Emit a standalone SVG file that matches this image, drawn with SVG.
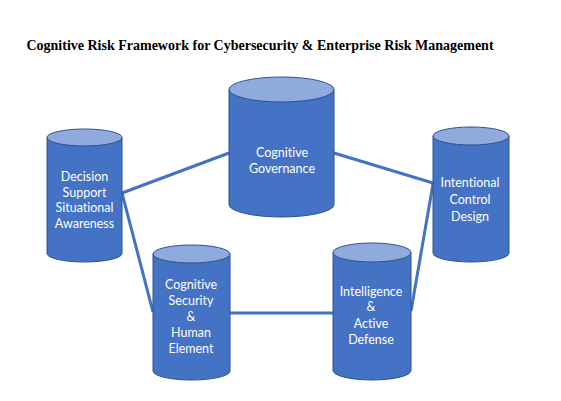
<svg xmlns="http://www.w3.org/2000/svg" width="561" height="401" viewBox="0 0 561 401">
<style>
.body{fill:#4472C4;stroke:#2F528F;stroke-width:1}
.top{fill:#8FAADC;stroke:#2F528F;stroke-width:1}
.lbl{fill:#fff;font-family:Lato,"Liberation Sans",sans-serif;font-size:12.5px;text-anchor:middle;font-variant-ligatures:none}
.con{stroke:#4472C4;stroke-width:3;fill:none}
.title{font-family:"Liberation Serif",serif;font-weight:bold;font-size:14px;text-anchor:middle;fill:#000}
</style>
<rect width="561" height="401" fill="#fff"/>
<text class="title" x="260" y="50">Cognitive Risk Framework for Cybersecurity &amp; Enterprise Risk Management</text>
<g id="connectors">
<line class="con" x1="122" y1="193" x2="229" y2="153"/>
<line class="con" x1="334" y1="153" x2="433" y2="183"/>
<line class="con" x1="122" y1="193" x2="153" y2="312"/>
<line class="con" x1="230" y1="313" x2="333" y2="313"/>
<line class="con" x1="411" y1="311" x2="433" y2="184"/>
</g>
<g id="governance">
<path class="body" d="M229,89.5 L229,204.5 A52.5,12.5 0 0 0 334,204.5 L334,89.5 Z"/>
<ellipse class="top" cx="281.5" cy="89.5" rx="52.5" ry="12.5"/>
<text class="lbl" x="282" y="157">Cognitive</text>
<text class="lbl" x="282" y="173">Governance</text>
</g>
<g id="decision">
<path class="body" d="M47,137.5 L47,253.5 A37.5,8.5 0 0 0 122,253.5 L122,137.5 Z"/>
<ellipse class="top" cx="84.5" cy="137.5" rx="37.5" ry="8.5"/>
<text class="lbl" x="84.5" y="181">Decision</text>
<text class="lbl" x="84.5" y="197">Support</text>
<text class="lbl" x="84.5" y="212">Situational</text>
<text class="lbl" x="84.5" y="228">Awareness</text>
</g>
<g id="intentional">
<path class="body" d="M433,136 L433,253 A38,9 0 0 0 509,253 L509,136 Z"/>
<ellipse class="top" cx="471" cy="136" rx="38" ry="9"/>
<text class="lbl" x="470" y="187">Intentional</text>
<text class="lbl" x="470" y="204">Control</text>
<text class="lbl" x="470" y="221">Design</text>
</g>
<g id="security">
<path class="body" d="M153,254 L153,371 A38.5,9 0 0 0 230,371 L230,254 Z"/>
<ellipse class="top" cx="191.5" cy="254" rx="38.5" ry="9"/>
<text class="lbl" x="191" y="289">Cognitive</text>
<text class="lbl" x="191" y="305">Security</text>
<text class="lbl" x="191" y="321">&amp;</text>
<text class="lbl" x="191" y="337">Human</text>
<text class="lbl" x="191" y="353">Element</text>
</g>
<g id="intelligence">
<path class="body" d="M333,252.5 L333,370.5 A39,9.5 0 0 0 411,370.5 L411,252.5 Z"/>
<ellipse class="top" cx="372" cy="252.5" rx="39" ry="9.5"/>
<text class="lbl" x="371" y="296">Intelligence</text>
<text class="lbl" x="371" y="311">&amp;</text>
<text class="lbl" x="371" y="328">Active</text>
<text class="lbl" x="371" y="344">Defense</text>
</g>
</svg>
